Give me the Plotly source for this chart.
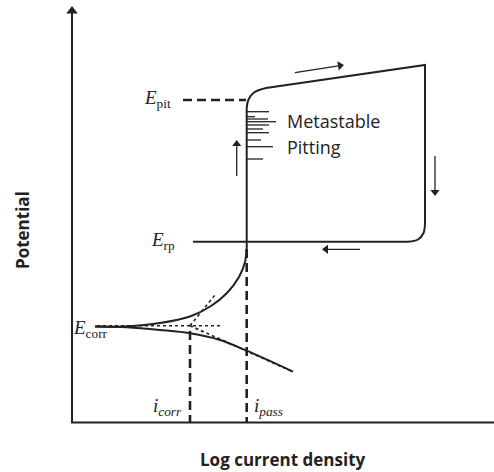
import plotly.graph_objects as go

W, H = 494, 472

# ---- schematic data (drawing units = page pixels) ----
anodic_x = [95, 127, 160, 190, 211, 227, 239, 245, 246.7, 246.7]
anodic_y = [326.5, 326.3, 323, 316.5, 306, 293, 277, 262, 248, 241.7]

cathodic_x = [95, 127, 160, 190, 220, 246.7, 293]
cathodic_y = [326.5, 327.3, 330, 333.3, 340, 350.7, 371.7]

passive_x = [246.7, 246.7]
passive_y = [241.7, 108]
corner1_x = [246.7, 248.5, 254, 266]
corner1_y = [108, 99.5, 92.5, 88]
forward_x = [266, 425, 425]
forward_y = [88, 65, 223]
corner2_x = [425, 423.5, 418, 408]
corner2_y = [223, 233, 239.5, 241.7]
reverse_x = [408, 193]
reverse_y = [241.7, 241.7]

tafel_h_x = [97, 223]
tafel_h_y = [325.7, 325.7]
tafel_a_x = [190, 215]
tafel_a_y = [325.7, 295]
tafel_c_x = [190, 293]
tafel_c_y = [325.7, 371.7]

epit_x = [183, 246]
epit_y = [100, 100]
icorr_x = [190, 190]
icorr_y = [331, 422]
ipass_x = [246.7, 246.7]
ipass_y = [249, 422]

meta_y = [111.7, 116.7, 119, 121.7, 125, 129, 132.7, 140, 146.7, 159]
meta_end = [269, 255, 268, 276, 269, 263, 269, 261, 273, 263]

# arrows: tail (x0, y0) -> head (x1, y1), head angle (deg, clockwise from up)
arrow_x0 = [72, 295, 435, 360, 236.7]
arrow_y0 = [422.5, 72.7, 156, 249.3, 176]
arrow_x1 = [72, 340, 435, 326, 236.7]
arrow_y1 = [11, 65.6, 192, 249.3, 144]
arrow_ang = [0, 81, 180, 270, 0]
arrow_w = [2, 1.3, 1.3, 1.3, 1.3]
arrow_size = [10, 8, 8, 8, 8]

fig = go.Figure()

def line(xs, ys, width=2, dash=None, shape="linear", color="#222"):
    fig.add_trace(go.Scatter(x=xs, y=ys, mode="lines", hoverinfo="skip",
                             line=dict(color=color, width=width, dash=dash, shape=shape)))

line(anodic_x, anodic_y, shape="spline")
line(cathodic_x, cathodic_y, shape="spline")
line(passive_x, passive_y)
line(corner1_x, corner1_y, shape="spline")
line(forward_x, forward_y)
line(corner2_x, corner2_y, shape="spline")
line(reverse_x, reverse_y)

line(tafel_h_x, tafel_h_y, width=1.6, dash="dot")
line(tafel_a_x, tafel_a_y, width=1.6, dash="dot")
line(tafel_c_x, tafel_c_y, width=1.8, dash="dot")

line(epit_x, epit_y, width=2.6, dash="9px,5px")
line(icorr_x, icorr_y, width=2.6, dash="9px,5px")
line(ipass_x, ipass_y, width=2.6, dash="9px,5px")

mx, my = [], []
for yy, xe in zip(meta_y, meta_end):
    mx += [246.7, xe, None]
    my += [yy, yy, None]
line(mx, my, width=1.3)

# x axis line
line([71, 494], [422.5, 422.5], width=2)

# arrows (y axis + direction arrows)
for x0, y0, x1, y1, ang, w, s in zip(arrow_x0, arrow_y0, arrow_x1, arrow_y1,
                                      arrow_ang, arrow_w, arrow_size):
    line([x0, x1], [y0, y1], width=w)
    fig.add_trace(go.Scatter(x=[x1], y=[y1], mode="markers", hoverinfo="skip",
                             marker=dict(symbol="triangle-up", size=s, angle=ang,
                                         color="#222", line=dict(width=0))))

serif = "Liberation Serif"
sans = "Open Sans"

def text(x, y, s, size, family, xanchor="left", color="#222", angle=0):
    fig.add_annotation(x=x, y=y, xref="x", yref="y", text=s, showarrow=False,
                       xanchor=xanchor, yanchor="middle", textangle=angle,
                       font=dict(family=family, size=size, color=color))

text(173, 99, "<i>E</i><sub>pit</sub>", 19, serif, xanchor="right")
text(177, 241, "<i>E</i><sub>rp</sub>", 19, serif, xanchor="right")
text(71, 329, "<i>E</i><sub>corr</sub>", 19, serif)
text(151, 407, "<i>i<sub>corr</sub></i>", 19, serif)
text(252, 407, "<i>i<sub>pass</sub></i>", 19, serif)
text(285, 121, "Metastable", 18, sans)
text(285, 147, "Pitting", 18, sans)
text(22, 230, "<b>Potential</b>", 17, sans, xanchor="center", angle=-90)
text(283, 459, "<b>Log current density</b>", 17, sans, xanchor="center")

fig.update_layout(width=W, height=H, margin=dict(l=0, r=0, t=0, b=0),
                  paper_bgcolor="white", plot_bgcolor="white", showlegend=False,
                  xaxis=dict(range=[0, W], visible=False, fixedrange=True),
                  yaxis=dict(range=[H, 0], visible=False, fixedrange=True))

fig.write_html("out.html", config={"displayModeBar": False},
               post_script="document.body.style.margin='0';")
